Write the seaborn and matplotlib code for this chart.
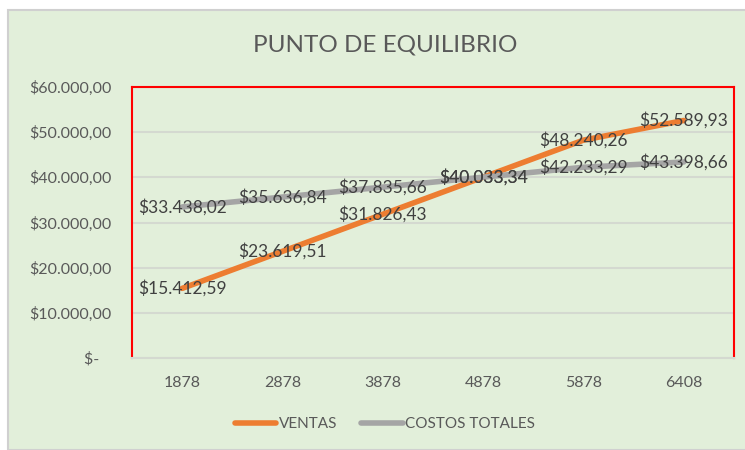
import matplotlib
matplotlib.use("Agg")
import matplotlib.pyplot as plt
from matplotlib.patches import Rectangle
from matplotlib.lines import Line2D
import seaborn as sns
import pandas as pd

categorias = ["1878", "2878", "3878", "4878", "5878", "6408"]
ventas = [15412.59, 23619.51, 31826.43, 40033.34, 48240.26, 52589.93]
costos_totales = [33438.02, 35636.84, 37835.66, 40033.34, 42233.29, 43398.66]
series = ["VENTAS", "COSTOS TOTALES"]
colores = ["#ED7D31", "#A5A5A5"]
y_ticks = [0, 10000, 20000, 30000, 40000, 50000, 60000]

sns.set_theme(style="white")
plt.rcParams["font.family"] = ["Lato", "DejaVu Sans"]

def fmt(v):
    if v == 0:
        return "$-   "
    s = f"{v:,.2f}"
    s = s.replace(",", "X").replace(".", ",").replace("X", ".")
    return "$" + s

df = pd.DataFrame({
    "cat": categorias * 2,
    "valor": ventas + costos_totales,
    "serie": [series[0]] * len(categorias) + [series[1]] * len(categorias),
})

fig = plt.figure(figsize=(7.45, 4.5), dpi=100)
fig.patch.set_facecolor("white")
bg = Rectangle((8 / 745, 0), 1.0, (450 - 10) / 450, transform=fig.transFigure,
               facecolor="#E2EFDA", edgecolor="#D0D0D0", linewidth=1.5, zorder=-10)
fig.patches.append(bg)

ax = fig.add_axes([132 / 745, 1 - 358 / 450, (734 - 132) / 745, (358 - 87) / 450])
ax.set_zorder(1)
ax.set_facecolor("#E2EFDA")

sns.lineplot(data=df, x="cat", y="valor", hue="serie", palette=colores,
             hue_order=series, linewidth=4, ax=ax, legend=False, sort=False)
for line in ax.lines:
    line.set_solid_capstyle("round")

ax.set_xlim(-0.5, len(categorias) - 0.5)
ax.set_ylim(0, 60000)
ax.set_yticks(y_ticks)
ax.set_yticklabels([fmt(v) for v in y_ticks], color="#595959", fontsize=11.5)
ax.set_xticks(range(len(categorias)))
ax.set_xticklabels(categorias, color="#595959", fontsize=11.5)
ax.tick_params(axis="y", length=0, pad=15)
ax.tick_params(axis="x", length=0, pad=13)
ax.set_xlabel("")
ax.set_ylabel("")
ax.yaxis.grid(True, color="#D4D9D0", linewidth=1.5)
ax.set_axisbelow(True)

for side in ["left", "top", "right"]:
    ax.spines[side].set_color("#FF0000")
    ax.spines[side].set_linewidth(1.5)
ax.spines["bottom"].set_color("#D4D9D0")
ax.spines["bottom"].set_linewidth(1.5)

for vals in (costos_totales, ventas):
    for i, v in enumerate(vals):
        ax.text(i, v, fmt(v), ha="center", va="center", fontsize=12.5,
                color="#404040", zorder=5)

fig.text(385 / 745, 1 - 45 / 450, "PUNTO DE EQUILIBRIO", ha="center", va="center",
         fontsize=17.5, color="#595959")

handles = [Line2D([0], [0], color=c, linewidth=4, solid_capstyle="round") for c in colores]
leg = fig.legend(handles, series, loc="center", bbox_to_anchor=(385 / 745, 1 - 424 / 450),
                 ncol=2, frameon=False, fontsize=11, handlelength=2.7,
                 handletextpad=0.15, columnspacing=1.6)
for t in leg.get_texts():
    t.set_color("#595959")

fig.savefig("out.png", dpi=100, facecolor=fig.get_facecolor())
